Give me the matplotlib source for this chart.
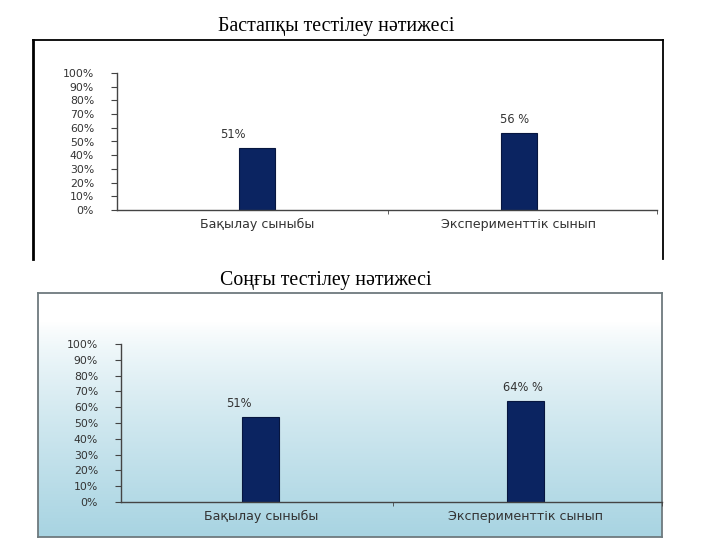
import numpy as np
import matplotlib
matplotlib.use("Agg")
from matplotlib import pyplot as plt
from matplotlib.ticker import FuncFormatter

W, H = 720, 540

# data
categories = ["Бақылау сыныбы", "Эксперименттік сынып"]
start_values = [0.45, 0.56]          # bar heights, first test
start_labels = ["51%", "56 %"]
final_values = [0.54, 0.64]          # bar heights, final test
final_labels = ["51%", "64% %"]
yticks = [i / 10 for i in range(11)]

titles = ["Бастапқы тестілеу нәтижесі", "Соңғы тестілеу нәтижесі"]
BAR = "#0b2461"


def px(x0, y0, x1, y1):  # pixel box -> figure fraction rect
    return [x0 / W, 1 - y1 / H, (x1 - x0) / W, (y1 - y0) / H]


def draw_bars(ax, values, labels, xlim, lab_dx, fs):
    x = np.arange(len(categories))
    ax.bar(x, values, width=0.14, color=BAR, edgecolor="#07163f", linewidth=0.8)
    for xi, v, lab, dx in zip(x, values, labels, lab_dx):
        ax.annotate(lab, (xi, v), xytext=(dx, 5), textcoords="offset points",
                    ha="center", va="bottom", fontsize=fs + 0.5, color="#333333")
    ax.set_xlim(*xlim)
    ax.set_ylim(0, 1)
    ax.set_yticks(yticks)
    ax.yaxis.set_major_formatter(FuncFormatter(lambda v, p: f"{int(round(v * 100))}%"))
    ax.set_xticks(x)
    ax.set_xticklabels(categories)
    ax.set_xticks([0.5, xlim[1]], minor=True)
    ax.tick_params(axis="x", which="major", length=0, pad=6,
                   labelsize=fs + 1.3, colors="#333333")
    ax.tick_params(axis="x", which="minor", length=3, direction="out", color="#444")
    ax.tick_params(axis="y", length=4, direction="out", color="#444",
                   labelsize=fs, labelcolor="#333333", pad=12.5)
    for s in ["top", "right"]:
        ax.spines[s].set_visible(False)
    for s in ["left", "bottom"]:
        ax.spines[s].set_color("#444")
        ax.spines[s].set_linewidth(1.0)
    ax.patch.set_alpha(0)


fig = plt.figure(figsize=(W / 100, H / 100), dpi=100)

# top frame: plain white, bottom edge cut off
frame1 = fig.add_axes(px(33, 40, 663, 259))
frame1.set_xticks([])
frame1.set_yticks([])
frame1.spines["bottom"].set_visible(False)
frame1.spines["left"].set_linewidth(2.0)
for s in ["top", "right"]:
    frame1.spines[s].set_linewidth(1.3)

# bottom frame: white to light blue gradient
frame2 = fig.add_axes(px(38, 293, 662, 537))
grad = np.linspace(0, 1, 256)[:, None]
top_c = np.array([1.0, 1.0, 1.0])
bot_c = np.array([168, 212, 226]) / 255
mix = np.clip((grad - 0.12) / 0.88, 0, 1) ** 0.8
img = top_c * (1 - mix[..., None]) + bot_c * mix[..., None]
frame2.imshow(img, aspect="auto", extent=[0, 1, 0, 1], origin="upper")
frame2.set_xticks([])
frame2.set_yticks([])
for s in frame2.spines.values():
    s.set_color("#6e7a7e")
    s.set_linewidth(1.3)

fig.text(336 / W, 1 - 27 / H, titles[0], ha="center", va="center",
         fontsize=14.3, family="Liberation Serif")
fig.text(326 / W, 1 - 281 / H, titles[1], ha="center", va="center",
         fontsize=14.3, family="Liberation Serif")

ax1 = fig.add_axes(px(117, 73, 657, 210))
draw_bars(ax1, start_values, start_labels, (-0.534, 1.527), [-17, -3], 7.8)

ax2 = fig.add_axes(px(121, 344, 662, 502))
draw_bars(ax2, final_values, final_labels, (-0.529, 1.516), [-16, -2], 7.8)

fig.savefig("out.png", dpi=100)
